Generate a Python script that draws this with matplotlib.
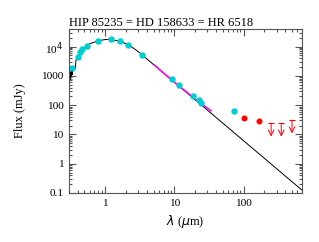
import numpy as np
import matplotlib.pyplot as plt

plt.rcParams['font.family'] = 'Liberation Serif'

title = 'HIP 85235 = HD 158633 = HR 6518'

# photosphere model (um, mJy)
mod_wl = [0.30, 0.305, 0.31, 0.315, 0.32, 0.325, 0.33, 0.335, 0.34, 0.35, 0.36, 0.37, 0.38,
          0.40, 0.45, 0.50, 0.60, 0.80, 1.0, 1.2, 1.6, 2.2, 3.0, 3.5, 5.0, 10.0, 20.0,
          50.0, 100.0, 200.0, 400.0, 700.0]
mod_fl = [650, 900, 1200, 800, 1400, 1000, 1700, 1100, 1900, 1500, 2000, 1800, 3500,
          4500, 7000, 9000, 12500, 16000, 17500, 17500, 15500, 11500, 6800, 5000, 2450,
          612, 153, 24.5, 6.1, 1.53, 0.38, 0.125]

# IRS spectrum
irs_wl = [5.2, 8.0, 12.0, 18.0, 24.0, 30.0, 34.0]
irs_fl = [2300, 950, 430, 200, 115, 80, 64]

# photometry
phot_wl = [0.334, 0.41, 0.44, 0.47, 0.54, 0.79, 1.23, 1.66, 2.17, 3.38, 9.1, 11.8, 18.4,
           22.4, 24.6, 72.0]
phot_fl = [1830, 4600, 6700, 8300, 10500, 16000, 18000, 16000, 11400, 5200, 810, 480, 213,
           145, 118, 63]
phot_err = [0, 0, 0, 0, 0, 0, 2500, 0, 0, 0, 0, 0, 0, 0, 0, 0]

exc_wl = [103.0, 165.0]
exc_fl = [37.0, 29.0]

lim_wl = [250.0, 350.0, 500.0]
lim_fl = [24.0, 24.0, 31.0]

fig = plt.figure(figsize=(3.19, 2.42), dpi=100)
ax = fig.add_axes([0.216, 0.2025, 0.731, 0.6775])

ax.plot(mod_wl, mod_fl, color='black', lw=0.7)
ax.plot(irs_wl, irs_fl, color='magenta', lw=1.1)
ax.errorbar(phot_wl, phot_fl, yerr=phot_err, fmt='o', color='#00CED1', ms=3.6,
            elinewidth=0.8, capsize=1.5, mec='#00CED1')
ax.plot(exc_wl, exc_fl, 'o', color='red', ms=3.3)
for x, y in zip(lim_wl, lim_fl):
    ax.plot([x], [y], marker='_', color='red', ms=5, mew=0.8)
    ax.annotate('', xy=(x, y / 2.85), xytext=(x, y),
                arrowprops=dict(arrowstyle='->', color='red', lw=0.7,
                                shrinkA=0, shrinkB=0))

ax.set_xscale('log')
ax.set_yscale('log')
ax.set_xlim(0.3, 700)
ax.set_ylim(0.1, 4e4)
ax.set_xticks([1, 10, 100])
ax.set_xticklabels(['1', '10', '100'])
ax.set_yticks([0.1, 1, 10, 100, 1000, 1e4])
ax.set_yticklabels(['0.1', '1', '10', '100', '1000', r'10$^4$'])
ax.tick_params(which='both', direction='in', top=True, right=True, labelsize=8.2,
               color='#555555', width=0.8)
ax.tick_params(which='major', length=5, pad=4)
ax.tick_params(which='minor', length=2.5)
for s in ax.spines.values():
    s.set_color('#555555')
    s.set_linewidth(0.8)

ax.set_xlabel(r'$\lambda$ ($\mu$m)', fontsize=9)
ax.set_ylabel('Flux (mJy)', fontsize=9, labelpad=11)
ax.set_title(title, fontsize=9, loc='left', pad=2)

fig.savefig('out.png', dpi=100)
